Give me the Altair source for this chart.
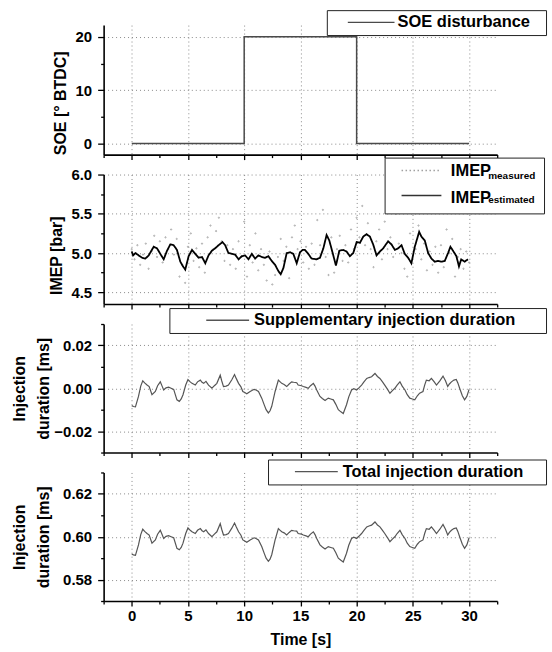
import altair as alt
import pandas as pd

FONT = "Liberation Sans"

# ---------------- data ----------------
x_ticks = [-2.5, 0, 2.5, 5, 7.5, 10, 12.5, 15, 17.5, 20, 22.5, 25, 27.5, 30, 32.5]

soe_t = [0, 10, 10, 20, 20, 30]
soe_v = [0, 0, 20, 20, 0, 0]

imep_t = [0.0, 0.12, 0.33, 0.62, 0.92, 1.21, 1.51, 1.95, 2.25, 2.54,
          2.84, 3.14, 3.43, 3.73, 4.02, 4.32, 4.56, 4.76, 5.06, 5.36,
          5.65, 5.95, 6.25, 6.54, 6.83, 7.13, 7.42, 7.72, 8.07, 8.31,
          8.6, 8.9, 9.2, 9.5, 9.79, 10.09, 10.38, 10.68, 10.97, 11.27,
          11.56, 11.86, 12.15, 12.45, 12.75, 13.04, 13.25, 13.49, 13.78, 14.08,
          14.37, 14.67, 14.96, 15.2, 15.4, 15.7, 15.99, 16.44, 16.74, 17.04,
          17.33, 17.57, 17.87, 18.16, 18.46, 18.81, 19.1, 19.4, 19.7, 20.0,
          20.29, 20.59, 20.88, 21.18, 21.47, 21.77, 22.07, 22.36, 22.8, 23.1,
          23.4, 23.69, 23.99, 24.28, 24.58, 24.87, 25.17, 25.56, 25.76, 26.06,
          26.36, 26.65, 26.95, 27.24, 27.54, 27.84, 28.13, 28.34, 28.57, 28.87,
          29.1, 29.3, 29.6, 29.9]
imep_est = [5.02, 4.97, 5.00, 4.97, 4.94, 4.93, 4.97, 5.08, 5.06, 4.99,
            4.92, 5.03, 5.11, 5.10, 5.04, 4.89, 4.83, 4.79, 4.96, 5.04,
            4.99, 4.94, 4.95, 4.87, 4.97, 5.03, 5.06, 5.10, 5.14, 5.10,
            5.00, 4.99, 4.98, 4.92, 4.96, 4.97, 4.92, 4.99, 4.93, 4.97,
            4.95, 4.94, 4.96, 4.90, 4.85, 4.77, 4.73, 4.81, 5.00, 5.01,
            4.99, 4.87, 5.01, 5.04, 5.04, 4.99, 4.93, 4.92, 4.94, 5.06,
            5.23, 5.16, 5.00, 4.84, 5.03, 5.04, 5.02, 4.96, 5.00, 5.14,
            5.13, 5.21, 5.24, 5.21, 5.11, 4.97, 5.02, 5.06, 5.15, 5.11,
            5.04, 5.06, 5.10, 4.99, 4.94, 4.87, 5.08, 5.27, 5.21, 5.16,
            5.00, 4.93, 4.89, 4.90, 4.89, 4.90, 5.00, 5.08, 5.03, 4.96,
            4.83, 4.92, 4.89, 4.92]

meas_t = [0.0, 0.25, 0.5, 0.75, 1.0, 1.25, 1.5, 1.75, 2.0, 2.25, 2.5, 2.75,
          3.0, 3.25, 3.5, 3.75, 4.0, 4.25, 4.5, 4.75, 5.0, 5.25, 5.5, 5.75,
          6.0, 6.25, 6.5, 6.75, 7.0, 7.25, 7.5, 7.75, 8.0, 8.25, 8.5, 8.75,
          9.0, 9.25, 9.5, 9.75, 10.0, 10.25, 10.5, 10.75, 11.0, 11.25, 11.5, 11.75,
          12.0, 12.25, 12.5, 12.75, 13.0, 13.25, 13.5, 13.75, 14.0, 14.25, 14.5, 14.75,
          15.0, 15.25, 15.5, 15.75, 16.0, 16.25, 16.5, 16.75, 17.0, 17.25, 17.5, 17.75,
          18.0, 18.25, 18.5, 18.75, 19.0, 19.25, 19.5, 19.75, 20.0, 20.25, 20.5, 20.75,
          21.0, 21.25, 21.5, 21.75, 22.0, 22.25, 22.5, 22.75, 23.0, 23.25, 23.5, 23.75,
          24.0, 24.25, 24.5, 24.75, 25.0, 25.25, 25.5, 25.75, 26.0, 26.25, 26.5, 26.75,
          27.0, 27.25, 27.5, 27.75, 28.0, 28.25, 28.5, 28.75, 29.0, 29.25, 29.5, 29.75, 30.0]
imep_meas = [5.05, 4.92, 5.10, 4.85, 4.98, 5.12, 4.80, 5.02, 5.22, 4.95, 5.15, 4.88,
             5.20, 5.05, 5.30, 4.98, 5.18, 4.70, 4.85, 4.62, 5.08, 5.25, 4.90, 5.06,
             4.82, 5.12, 4.75, 5.20, 5.35, 5.05, 5.28, 5.45, 5.15, 4.90, 5.10, 4.85,
             5.05, 4.80, 5.15, 4.95, 5.40, 4.70, 5.10, 4.88, 5.25, 4.78, 5.05, 4.85,
             4.65, 5.02, 4.60, 4.72, 4.95, 5.18, 4.90, 5.08, 4.68, 5.20, 5.35, 5.05,
             5.15, 4.88, 5.08, 4.80, 5.12, 4.85, 5.42, 5.10, 5.55, 4.95, 4.72, 5.20,
             4.75, 5.05, 5.22, 4.90, 5.10, 4.88, 5.30, 5.05, 5.45, 5.20, 5.60, 5.10,
             5.38, 5.05, 4.82, 5.15, 5.30, 4.92, 5.40, 5.05, 5.20, 4.95, 5.50, 5.12,
             5.00, 4.80, 4.70, 5.25, 5.55, 5.05, 5.35, 4.92, 5.12, 4.78, 5.02, 4.85,
             5.08, 4.75, 5.10, 4.82, 5.30, 5.00, 5.18, 4.70, 4.95, 5.05, 4.80, 5.02, 4.88]

inj_t = [0.0, 0.15, 0.33, 0.6, 0.8, 0.98, 1.15, 1.36, 1.55, 1.8,
         2.1, 2.3, 2.54, 2.7, 2.84, 3.05, 3.28, 3.5, 3.73, 4.02,
         4.23, 4.4, 4.56, 4.8, 5.0, 5.2, 5.36, 5.65, 5.85, 6.1,
         6.25, 6.4, 6.6, 6.83, 7.13, 7.35, 7.57, 7.87, 8.0, 8.16,
         8.4, 8.6, 8.9, 9.14, 9.3, 9.5, 9.7, 9.88, 10.05, 10.23,
         10.53, 10.88, 11.05, 11.27, 11.56, 11.8, 11.95, 12.15, 12.3, 12.45,
         12.75, 13.04, 13.2, 13.34, 13.55, 13.78, 14.0, 14.22, 14.4, 14.67,
         14.8, 15.1, 15.26, 15.5, 15.7, 15.9, 16.15, 16.3, 16.45, 16.74,
         16.95, 17.19, 17.48, 17.7, 17.93, 18.15, 18.37, 18.6, 18.81, 19.1,
         19.3, 19.55, 19.75, 20.0, 20.2, 20.44, 20.65, 20.9, 21.1, 21.33,
         21.63, 21.85, 22.07, 22.3, 22.5, 22.75, 22.96, 23.2, 23.4, 23.6,
         23.85, 24.05, 24.3, 24.5, 24.73, 24.95, 25.17, 25.4, 25.6, 25.9,
         26.05, 26.2, 26.45, 26.65, 26.9, 27.1, 27.4, 27.68, 27.9, 28.1,
         28.25, 28.43, 28.65, 28.86, 29.0, 29.16, 29.4, 29.6, 29.8, 30.0]
supp_inj = [-0.0081, -0.0085, -0.0087, -0.0038, 0.0010, 0.0035, 0.0025, 0.0015, 0.0008, -0.0030,
            -0.0015, 0.0012, 0.0030, 0.0010, -0.0008, 0.0002, 0.0005, 0.0000, -0.0005, -0.0054,
            -0.0061, -0.0050, -0.0030, 0.0015, 0.0041, 0.0030, 0.0023, 0.0015, 0.0030, 0.0038,
            0.0028, 0.0023, 0.0032, 0.0015, 0.0000, 0.0012, 0.0023, 0.0061, 0.0035, 0.0008,
            0.0010, 0.0015, 0.0040, 0.0064, 0.0045, 0.0023, 0.0008, -0.0015, -0.0020, -0.0026,
            -0.0015, -0.0005, -0.0008, -0.0015, -0.0046, -0.0080, -0.0100, -0.0115, -0.0105, -0.0084,
            -0.0015, 0.0038, 0.0030, 0.0023, 0.0018, 0.0008, 0.0020, 0.0030, 0.0028, 0.0026,
            0.0015, 0.0012, 0.0008, 0.0004, 0.0000, 0.0012, 0.0023, 0.0010, -0.0008, -0.0038,
            -0.0048, -0.0057, -0.0046, -0.0050, -0.0054, -0.0075, -0.0100, -0.0110, -0.0118, -0.0077,
            -0.0040, -0.0008, -0.0002, -0.0008, 0.0002, 0.0015, 0.0030, 0.0046, 0.0050, 0.0054,
            0.0069, 0.0055, 0.0046, 0.0030, 0.0015, -0.0005, -0.0023, -0.0010, 0.0000, 0.0015,
            0.0030, 0.0010, -0.0008, -0.0030, -0.0046, -0.0050, -0.0054, -0.0035, -0.0023, -0.0015,
            0.0015, 0.0038, 0.0035, 0.0046, 0.0030, 0.0015, 0.0035, 0.0057, 0.0035, 0.0008,
            0.0020, 0.0030, 0.0038, 0.0041, 0.0025, 0.0000, -0.0035, -0.0054, -0.0038, -0.0005]
total_inj = [0.5919, 0.5915, 0.5913, 0.5962, 0.6010, 0.6035, 0.6025, 0.6015, 0.6008, 0.5970,
             0.5985, 0.6012, 0.6030, 0.6010, 0.5992, 0.6002, 0.6005, 0.6000, 0.5995, 0.5946,
             0.5939, 0.5950, 0.5970, 0.6015, 0.6041, 0.6030, 0.6023, 0.6015, 0.6030, 0.6038,
             0.6028, 0.6023, 0.6032, 0.6015, 0.6000, 0.6012, 0.6023, 0.6061, 0.6035, 0.6008,
             0.6010, 0.6015, 0.6040, 0.6064, 0.6045, 0.6023, 0.6008, 0.5985, 0.5980, 0.5974,
             0.5985, 0.5995, 0.5992, 0.5985, 0.5954, 0.5920, 0.5900, 0.5885, 0.5895, 0.5916,
             0.5985, 0.6038, 0.6030, 0.6023, 0.6018, 0.6008, 0.6020, 0.6030, 0.6028, 0.6026,
             0.6015, 0.6012, 0.6008, 0.6004, 0.6000, 0.6012, 0.6023, 0.6010, 0.5992, 0.5962,
             0.5952, 0.5943, 0.5954, 0.5950, 0.5946, 0.5925, 0.5900, 0.5890, 0.5882, 0.5923,
             0.5960, 0.5992, 0.5998, 0.5992, 0.6002, 0.6015, 0.6030, 0.6046, 0.6050, 0.6054,
             0.6069, 0.6055, 0.6046, 0.6030, 0.6015, 0.5995, 0.5977, 0.5990, 0.6000, 0.6015,
             0.6030, 0.6010, 0.5992, 0.5970, 0.5954, 0.5950, 0.5946, 0.5965, 0.5977, 0.5985,
             0.6015, 0.6038, 0.6035, 0.6046, 0.6030, 0.6015, 0.6035, 0.6057, 0.6035, 0.6008,
             0.6020, 0.6030, 0.6038, 0.6041, 0.6025, 0.6000, 0.5965, 0.5946, 0.5962, 0.5995]

soe_ticks = [0, 5, 10, 15, 20]
imep_ticks = [4.5, 4.75, 5.0, 5.25, 5.5, 5.75, 6.0]
supp_ticks = [-0.03, -0.02, -0.01, 0.0, 0.01, 0.02, 0.03]
total_ticks = [0.57, 0.58, 0.59, 0.60, 0.61, 0.62, 0.63]

# ---------------- tables ----------------
df_soe = pd.DataFrame({"t": soe_t, "v": soe_v, "idx": list(range(len(soe_t))),
                       "series": "SOE disturbance"})
df_meas = pd.DataFrame({"t": meas_t, "v": imep_meas, "series": "measured"})
df_est = pd.DataFrame({"t": imep_t, "v": imep_est, "series": "estimated", "series2": "IMEP_e"})
df_supp = pd.DataFrame({"t": inj_t, "v": supp_inj, "series": "Supplementary injection duration"})
df_tot = pd.DataFrame({"t": inj_t, "v": total_inj, "series": "Total injection duration"})

XMAJ = "datum.value % 5 === 0"
GRID_COL = "#8a8a8a"
LFS = 16.5


def x_enc(show):
    common = dict(
        values=x_ticks,
        grid=True,
        labelPadding=3,
        gridOpacity={"condition": {"test": XMAJ + " && datum.value >= 0 && datum.value <= 30", "value": 1}, "value": 0},
        tickSize={"condition": {"test": XMAJ, "value": 5}, "value": 3},
    )
    if show:
        axis = alt.Axis(title="Time [s]", labelExpr=XMAJ + " ? format(datum.value, 'd') : ''",
                        titlePadding=8, **common)
    else:
        axis = alt.Axis(title=None, labels=False, **common)
    return alt.X("t:Q", scale=alt.Scale(domain=[-2.5, 32.5], nice=False, zero=False), axis=axis)


def y_enc(domain, ticks, major_test, fmt, title, title_x, title_y):
    axis = alt.Axis(
        values=ticks,
        title=title,
        titleX=title_x,
        titleY=title_y,
        titleLineHeight=24,
        labelPadding=6,
        labelExpr="(" + major_test + ") ? format(datum.value, '" + fmt + "') : ''",
        grid=True,
        gridOpacity={"condition": {"test": major_test, "value": 1}, "value": 0},
        tickSize={"condition": {"test": major_test, "value": 6}, "value": 3},
    )
    return alt.Y("v:Q", scale=alt.Scale(domain=domain, nice=False, zero=False), axis=axis)


def single_legend(lx, ly, so, lo, size, far):
    # symbol = short line sample; the trailing lone move-to only widens the legend frame
    return alt.Legend(
        title=None, orient="none", legendX=lx, legendY=ly, padding=4,
        strokeColor="#222222", fillColor="white", cornerRadius=0,
        symbolType="M-6,0H6M%.2f,0" % far, symbolSize=size, symbolStrokeWidth=1.3,
        symbolOffset=so, labelOffset=lo,
        labelFontSize=LFS, labelFont=FONT,
        labelFontWeight="bold", labelColor="black", labelLimit=1000,
    )


# ---------------- panel 1: SOE ----------------
p1 = alt.Chart(df_soe).mark_line(strokeWidth=1.5).encode(
    x=x_enc(False),
    y=y_enc([-2.1, 22.2], soe_ticks, "datum.value % 10 === 0", "d", "SOE [° BTDC]", -35, 78),
    order="idx:Q",
    color=alt.Color("series:N", scale=alt.Scale(domain=["SOE disturbance"], range=["#4a4a4a"]),
                    legend=single_legend(224, -15, 32.25, 18.25, 61, 43.2)),
).properties(width=395, height=130)

# ---------------- panel 2: IMEP ----------------
imep_dom = ["measured", "estimated"]
legA = alt.Legend(
    title=None, orient="none", legendX=282, legendY=-17, padding=8,
    strokeColor="#222222", fillColor="white", cornerRadius=0,
    symbolType="M-6,0H6", symbolSize=44.4, symbolStrokeWidth=1.6,
    symbolOffset=24, labelOffset=62, labelFontSize=10, labelFont=FONT,
    labelFontWeight="bold", labelColor="black", labelBaseline="top", rowPadding=10,
    labelLimit=1000,
)
legB = alt.Legend(
    title=None, orient="none", legendX=332, legendY=-11.5, padding=0,
    symbolType="circle", symbolSize=1, symbolOpacity=0, symbolStrokeWidth=0,
    labelOffset=0, labelFontSize=LFS, labelFont=FONT, labelFontWeight="bold",
    labelColor="black", labelExpr="'IMEP'", rowPadding=10, zindex=1,
)
col_imep = alt.Color("series:N", scale=alt.Scale(domain=imep_dom, range=["#8a8a8a", "#000000"]), legend=legA)
dash_imep = alt.StrokeDash("series:N", scale=alt.Scale(domain=imep_dom, range=[[1.5, 2.5], [1, 0]]), legend=legA)
y2 = y_enc([4.35, 6.0], imep_ticks, "abs(datum.value*2 - round(datum.value*2)) < 0.001", ".1f",
           "IMEP [bar]", -39, 81)

meas_layer = alt.Chart(df_meas).mark_point(size=1.5, filled=False, strokeWidth=0.9, opacity=0.8).encode(
    x=x_enc(False), y=y2, color=col_imep)
est_layer = alt.Chart(df_est).mark_line(strokeWidth=1.8).encode(
    x=x_enc(False), y=y2, color=col_imep, strokeDash=dash_imep,
    opacity=alt.Opacity("series2:N", scale=alt.Scale(domain=["IMEP_m", "IMEP_e"], range=[1, 1]), legend=legB),
)
p2 = alt.layer(meas_layer, est_layer).properties(width=395, height=130)

# ---------------- panel 3: supplementary ----------------
MAJ2 = "abs(datum.value*50 - round(datum.value*50)) < 0.001"
p3 = alt.Chart(df_supp).mark_line(strokeWidth=1.2).encode(
    x=x_enc(False),
    y=y_enc([-0.03, 0.03], supp_ticks, MAJ2, ".2f", ["Injection", "duration [ms]"], -76, 64.5),
    color=alt.Color("series:N", scale=alt.Scale(domain=["Supplementary injection duration"], range=["#555555"]),
                    legend=single_legend(66, -16, 46.25, 18.25, 51.4, 87.2)),
).properties(width=395, height=129)

# ---------------- panel 4: total ----------------
p4 = alt.Chart(df_tot).mark_line(strokeWidth=1.2).encode(
    x=x_enc(True),
    y=y_enc([0.57, 0.63], total_ticks, MAJ2, ".2f", ["Injection", "duration [ms]"], -76, 64.5),
    color=alt.Color("series:N", scale=alt.Scale(domain=["Total injection duration"], range=["#555555"]),
                    legend=single_legend(165, -13, 36.25, 18.25, 51.4, 62.4)),
).properties(width=395, height=129)

chart = alt.vconcat(p1, p2, p3, p4, spacing=20, bounds="flush").resolve_scale(
    color="independent", strokeDash="independent", opacity="independent", y="independent"
).resolve_legend(
    color="independent", strokeDash="independent", opacity="independent"
).properties(
    padding={"left": 12, "top": 8, "right": 5, "bottom": 2},
    background="white",
).configure_axis(
    domainColor="black", domainWidth=1.6, tickColor="black", tickWidth=1.3,
    gridColor=GRID_COL, gridDash=[1, 3], gridWidth=1,
    labelFont=FONT, labelFontSize=15, labelFontWeight="bold", labelColor="black",
    titleFont=FONT, titleFontSize=16, titleFontWeight="bold", titleColor="black",
).configure_view(stroke=None)

chart.save("out.html", embed_options={"renderer": "svg", "actions": False})
